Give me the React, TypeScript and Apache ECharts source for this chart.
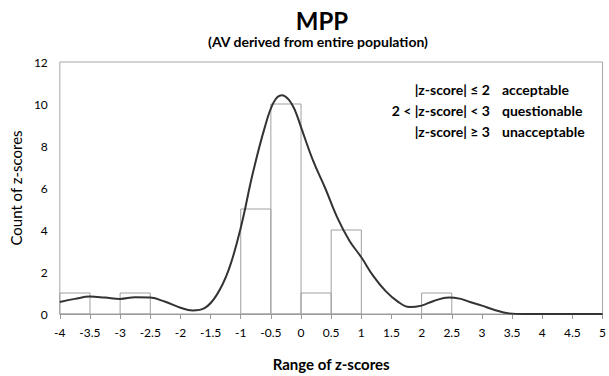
import React, { useEffect, useRef } from "react";
import * as echarts from "echarts";

const binStarts = [-4, -3, -1, -0.5, 0, 0.5, 2];
const binWidth = 0.5;
const binCounts = [1, 1, 5, 10, 1, 4, 1];

const curveX = [-4, -3.75, -3.5, -3.25, -3, -2.75, -2.5, -2.25, -2, -1.8, -1.6, -1.4, -1.2, -1, -0.8, -0.6, -0.45, -0.32, -0.2, -0.1, 0, 0.2, 0.4, 0.6, 0.8, 1, 1.2, 1.4, 1.6, 1.8, 2, 2.2, 2.45, 2.65, 2.8, 3, 3.2, 3.45, 3.7, 4, 4.5, 5];
const curveY = [0.57, 0.72, 0.83, 0.78, 0.72, 0.8, 0.78, 0.58, 0.3, 0.17, 0.28, 0.9, 2.1, 4.1, 6.7, 8.9, 10.1, 10.42, 10.2, 9.7, 8.9, 7.3, 6.0, 4.6, 3.5, 2.7, 1.8, 1.1, 0.6, 0.33, 0.4, 0.62, 0.79, 0.72, 0.57, 0.4, 0.2, 0.03, 0, 0, 0, 0];

const legendLeft = ["|z-score| \u2264 2", "2 < |z-score| < 3", "|z-score| \u2265 3"];
const legendRight = ["acceptable", "questionable", "unacceptable"];

const FONT = "Lato";

export default function App() {
  const ref = useRef<HTMLDivElement>(null);
  useEffect(() => {
    if (!ref.current) return;
    document.body.style.margin = "0";
    const chart = echarts.init(ref.current, null, { renderer: "svg" });
    const bars = binStarts.map((s, i) => [s, s + binWidth, binCounts[i]]);
    const curve = curveX.map((x, i) => [x, curveY[i]]);
    const graphics: any[] = [
      { type: "text", x: 322, y: 20, style: { text: "MPP", font: `bold 24px ${FONT}`, fill: "#000", textAlign: "center", textVerticalAlign: "middle" } },
      { type: "text", x: 318, y: 41, style: { text: "(AV derived from entire population)", font: `bold 14px ${FONT}`, fill: "#000", textAlign: "center", textVerticalAlign: "middle" } },
    ];
    legendLeft.forEach((t, i) => {
      graphics.push({ type: "text", x: 490, y: 89 + i * 21, style: { text: t, font: `bold 14px ${FONT}`, fill: "#000", textAlign: "right", textVerticalAlign: "middle" } });
      graphics.push({ type: "text", x: 502, y: 89 + i * 21, style: { text: legendRight[i], font: `bold 14px ${FONT}`, fill: "#000", textAlign: "left", textVerticalAlign: "middle" } });
    });
    chart.setOption({
      animation: false,
      backgroundColor: "#fff",
      grid: { left: 57, right: 5, top: 62, bottom: 60, show: true, borderColor: "#a6a6a6", borderWidth: 1, backgroundColor: "#fff" },
      xAxis: {
        type: "value", min: -4, max: 5, interval: 0.5,
        name: "Range of z-scores", nameLocation: "middle", nameGap: 42,
        nameTextStyle: { fontFamily: FONT, fontWeight: "bold", fontSize: 15, color: "#000" },
        axisLine: { show: true, lineStyle: { color: "#999", width: 1 } },
        axisTick: { show: true, length: 5, lineStyle: { color: "#999" } },
        axisLabel: { fontFamily: FONT, fontSize: 12, color: "#000", margin: 12 },
        splitLine: { show: false },
      },
      yAxis: {
        type: "value", min: 0, max: 12, interval: 2,
        name: "Count of z-scores", nameLocation: "middle", nameGap: 33, nameRotate: 90,
        nameTextStyle: { fontFamily: FONT, fontSize: 15, color: "#000" },
        axisLine: { show: false },
        axisTick: { show: false },
        axisLabel: { fontFamily: FONT, fontSize: 12, color: "#000", margin: 12 },
        splitLine: { show: false },
      },
      graphic: graphics,
      series: [
        {
          type: "custom",
          data: bars,
          encode: { x: [0, 1], y: 2 },
          renderItem: (params: any, api: any) => {
            const p0 = api.coord([api.value(0), api.value(2)]);
            const p1 = api.coord([api.value(1), 0]);
            return {
              type: "rect",
              shape: { x: p0[0], y: p0[1], width: p1[0] - p0[0], height: p1[1] - p0[1] },
              style: { fill: "none", stroke: "#a0a0a0", lineWidth: 1 },
            };
          },
          z: 2,
        },
        {
          type: "line",
          data: curve,
          smooth: 0.4,
          symbol: "none",
          lineStyle: { color: "#333", width: 2 },
          z: 3,
        },
      ],
    });
    return () => chart.dispose();
  }, []);
  return <div ref={ref} style={{ width: 609, height: 376 }} />;
}
